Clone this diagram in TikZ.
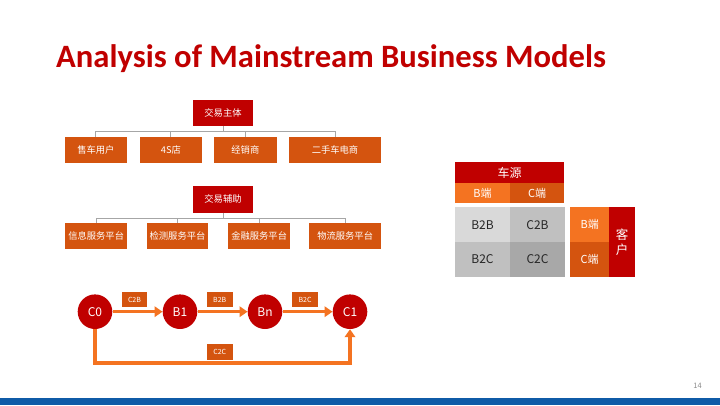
\documentclass[tikz,border=0pt]{standalone}
\usepackage{fontspec}
\setmainfont{Noto Sans CJK SC}
\newfontfamily\titlefont{Carlito}
\usetikzlibrary{arrows.meta}

\definecolor{deepred}{HTML}{C00000}
\definecolor{darkorange}{HTML}{D4540F}
\definecolor{lightorange}{HTML}{F47321}
\definecolor{linkgrey}{HTML}{A6A6A6}
\definecolor{cellA}{HTML}{D9D9D9}
\definecolor{cellB}{HTML}{C0C0C0}
\definecolor{cellC}{HTML}{A8A8A8}
\definecolor{barblue}{HTML}{0F5BA7}

\tikzset{
  headbox/.style={fill=deepred, text=white, inner sep=0pt, minimum height=26pt,
    font=\fontsize{9.3}{11}\selectfont},
  leafbox/.style={fill=darkorange, text=white, inner sep=0pt, minimum height=26pt,
    font=\fontsize{9.3}{11}\selectfont},
  treelink/.style={draw=linkgrey, line width=0.9pt},
  stage/.style={circle, fill=deepred, text=white, inner sep=0pt, minimum size=34.6pt,
    font=\fontsize{12}{14}\selectfont},
  flow/.style={draw=lightorange, line width=3.5pt,
    -{Triangle[width=10.5pt,length=8pt]}},
  tag/.style={fill=darkorange, text=white, inner sep=0pt, minimum width=25.8pt,
    minimum height=15.8pt, font=\fontsize{7}{8}\selectfont},
  cell/.style={inner sep=0pt, text=white, font=\fontsize{11}{13}\selectfont},
  greycell/.style={inner sep=0pt, text=black!85, minimum width=55pt, minimum height=35pt,
    font=\fontsize{12}{14}\selectfont}
}

\begin{document}
\begin{tikzpicture}[x=1pt, y=-1pt]
  \useasboundingbox (0,0) rectangle (720,405);
  \fill[white] (0,0) rectangle (720,405);

  % title
  \node[anchor=base west, inner sep=0pt, text=deepred,
        font=\titlefont\bfseries\fontsize{32.6}{38}\selectfont]
        (title) at (56,67.3) {Analysis of Mainstream Business Models};

  % trading parties
  \node[headbox, minimum width=60.6pt] (main) at (223,113) {交易主体};
  \node[leafbox, minimum width=61.7pt] (m1) at (95.85,149.7) {售车用户};
  \node[leafbox, minimum width=61.7pt] (m2) at (170.85,149.7) {4S店};
  \node[leafbox, minimum width=62.7pt] (m3) at (245.35,149.7) {经销商};
  \node[leafbox, minimum width=92pt]   (m4) at (335,149.7) {二手车电商};
  \coordinate (busA) at (0,131.7);
  \foreach \k in {m1,m2,m3,m4}
    \draw[treelink] (main.south) -- (main.south |- busA) -| (\k.north);

  % supporting services
  \node[headbox, minimum width=60.6pt, minimum height=26.7pt] (aux) at (223,199.3) {交易辅助};
  \node[leafbox, minimum width=62.3pt] (s1) at (96.15,236.3) {信息服务平台};
  \node[leafbox, minimum width=61.7pt] (s2) at (177.5,236.3) {检测服务平台};
  \node[leafbox, minimum width=61.7pt] (s3) at (259.15,236.3) {金融服务平台};
  \node[leafbox, minimum width=71.7pt] (s4) at (345.15,236.3) {物流服务平台};
  \coordinate (busB) at (0,218.7);
  \foreach \k in {s1,s2,s3,s4}
    \draw[treelink] (aux.south) -- (aux.south |- busB) -| (\k.north);

  % transaction chain
  \node[stage] (c0) at (95,311.7) {C0};
  \node[stage] (b1) at (180,311.7) {B1};
  \node[stage] (bn) at (265,311.7) {Bn};
  \node[stage] (c1) at (350,311.7) {C1};
  \draw[flow] (c0) -- (b1);
  \draw[flow] (b1) -- (bn);
  \draw[flow] (bn) -- (c1);
  \coordinate (loopbase) at (0,363);
  \draw[flow] (c0.south) -- (c0.south |- loopbase) -| (c1.south);
  \node[tag] (t1) at (134.5,299.5) {C2B};
  \node[tag] (t2) at (219.7,299.5) {B2B};
  \node[tag] (t3) at (305,299.5) {B2C};
  \node[tag] (t4) at (219.7,351.6) {C2C};

  % source / customer matrix
  \node[cell, fill=deepred, minimum width=109.3pt, minimum height=21pt,
        font=\fontsize{12}{14}\selectfont] (src) at (509.65,172.8) {车源};
  \node[cell, fill=lightorange, minimum width=55pt, minimum height=20pt] (srcB) at (482.5,193.3) {B端};
  \node[cell, fill=darkorange, minimum width=54.3pt, minimum height=20pt] (srcC) at (537.15,193.3) {C端};
  \node[greycell, fill=cellA] (g11) at (482.5,224.8) {B2B};
  \node[greycell, fill=cellB, minimum width=55pt] (g12) at (537.5,224.8) {C2B};
  \node[greycell, fill=cellB, minimum height=34.4pt] (g21) at (482.5,259.5) {B2C};
  \node[greycell, fill=cellC, minimum height=34.4pt] (g22) at (537.5,259.5) {C2C};
  \node[cell, fill=lightorange, minimum width=39.3pt, minimum height=35pt] (cusB) at (589.65,224.8) {B端};
  \node[cell, fill=darkorange, minimum width=39.3pt, minimum height=34.4pt] (cusC) at (589.65,259.5) {C端};
  \node[cell, fill=deepred, minimum width=25.7pt, minimum height=69.4pt, align=center,
        font=\fontsize{12.5}{15}\selectfont] (cus) at (622.15,242) {客\\户};

  % footer
  \node[anchor=base east, inner sep=0pt, text=black!45, font=\fontsize{7.5}{9}\selectfont]
        (pg) at (702,388) {14};
  \fill[barblue] (0,398) rectangle (720,405);
\end{tikzpicture}
\end{document}
